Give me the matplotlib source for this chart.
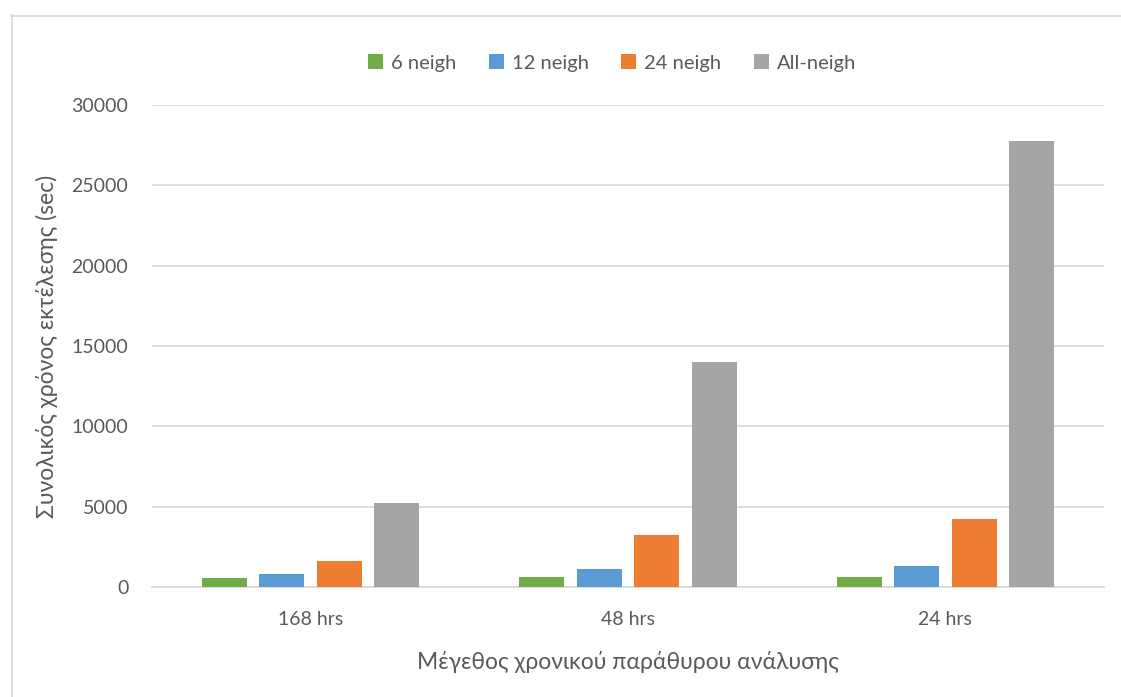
import numpy as np
import matplotlib.pyplot as plt
from matplotlib.lines import Line2D

categories = ["168 hrs", "48 hrs", "24 hrs"]
series = ["6 neigh", "12 neigh", "24 neigh", "All-neigh"]
vals_6 = [590, 600, 620]
vals_12 = [840, 1150, 1330]
vals_24 = [1600, 3240, 4210]
vals_all = [5210, 14030, 27780]
colors = ["#70AD47", "#5B9BD5", "#ED7D31", "#A5A5A5"]
yticks = [0, 5000, 10000, 15000, 20000, 25000, 30000]

plt.rcParams['font.family'] = ['Lato', 'DejaVu Sans']
text_color = "#595959"

W, H = 1121, 697
fig = plt.figure(figsize=(W / 100, H / 100), dpi=100)
ax = fig.add_axes([152 / W, 1 - 587 / H, (1104 - 152) / W, (587 - 105) / H])

x = np.arange(len(categories))
step = 0.181
width = 0.142
for i, (name, vals) in enumerate(zip(series, [vals_6, vals_12, vals_24, vals_all])):
    ax.bar(x + (i - 1.5) * step, vals, width, color=colors[i], label=name, zorder=3)

ax.set_xlim(-0.5, len(categories) - 0.5)
ax.set_ylim(0, 30000)
ax.set_yticks(yticks)
ax.set_yticklabels([str(t) for t in yticks])
ax.set_xticks(x)
ax.set_xticklabels(categories)
ax.grid(axis='y', color="#D9D9D9", linewidth=1.3, zorder=0)
for s in ["top", "right", "left"]:
    ax.spines[s].set_visible(False)
ax.spines["bottom"].set_color("#D9D9D9")
ax.spines["bottom"].set_linewidth(1.3)
ax.tick_params(axis='both', length=0, labelsize=14, labelcolor=text_color)
ax.tick_params(axis='y', pad=17)
ax.tick_params(axis='x', pad=17)

ax.set_ylabel("Συνολικός χρόνος εκτέλεσης (sec)", fontsize=16.5, color=text_color, labelpad=10)
ax.set_xlabel("Μέγεθος χρονικού παράθυρου ανάλυσης", fontsize=16.5, color=text_color, labelpad=17)

ax.legend(loc="center", bbox_to_anchor=(612 / W, 1 - 63 / H), bbox_transform=fig.transFigure,
          ncol=4, frameon=False, fontsize=14.5, labelcolor=text_color,
          handlelength=0.75, handleheight=0.75, handletextpad=0.4, columnspacing=1.6)

# chart border (only top and left visible)
fig.add_artist(Line2D([11.5 / W, 11.5 / W], [0, 1 - 15 / H], transform=fig.transFigure,
                      color="#D9D9D9", linewidth=1.3))
fig.add_artist(Line2D([11 / W, 1], [1 - 15.5 / H, 1 - 15.5 / H], transform=fig.transFigure,
                      color="#D9D9D9", linewidth=1.3))

fig.savefig("out.png", dpi=100)
